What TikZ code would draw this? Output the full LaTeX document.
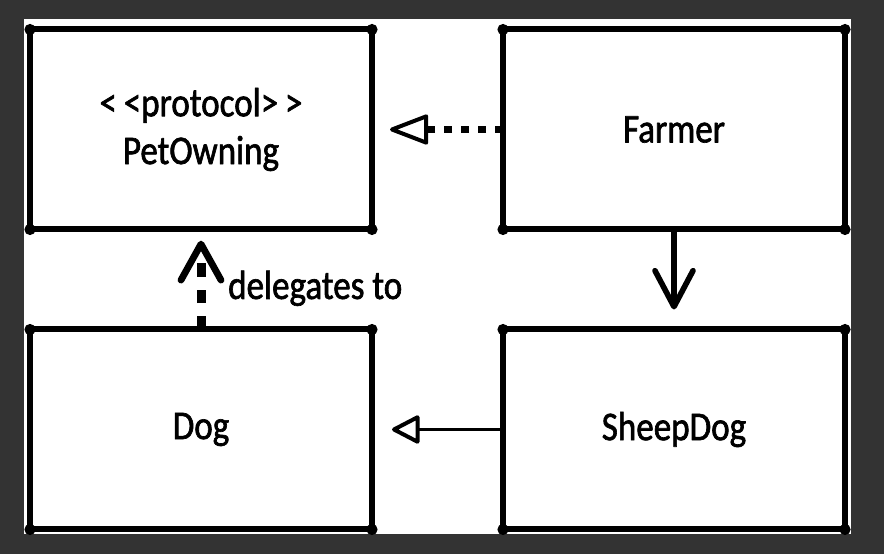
\documentclass[tikz,border=0pt]{standalone}
\usepackage{fontspec}
\setmainfont{Carlito}[FakeStretch=0.86, FakeBold=1.6]
\usepackage{tikz}
\usetikzlibrary{positioning, arrows.meta}
\definecolor{frame}{RGB}{51,51,51}

\begin{document}
\begin{tikzpicture}[font=\fontsize{29}{34}\selectfont,
    classbox/.style={draw, line width=0.15cm, minimum width=8.55cm, minimum height=5cm,
        inner sep=0pt, outer sep=0pt, align=center, line join=round}]
    % Frame and canvas
    \useasboundingbox (0,0) rectangle (22.1,13.85);
    \fill[frame] (0,0) rectangle (22.1,13.85);
    \fill[white] (0.6,0.5) rectangle (21.275,13.375);

    % The classes
    \node[classbox] (pet) at (5.025,10.6125) {<\,<protocol>\,>\\PetOwning};
    \node[classbox, right=3.275cm of pet] (farmer) {Farmer};
    \node[classbox, below=2.5cm of pet] (dog) {Dog};
    \node[classbox, right=3.275cm of dog] (sheep) {SheepDog};

    % Blobs on the corners
    \foreach \n in {pet, farmer, dog, sheep}
        \foreach \c in {north west, north east, south west, south east}
            \fill (\n.\c) circle (0.14cm);

    % Farmer conforms to PetOwning
    \draw[line width=0.175cm, dash pattern=on 0.2cm off 0.225cm, shorten >=0.45cm,
        -{Triangle[open, round, length=1.05cm, width=0.775cm, line width=0.1cm]}] (farmer) -- (pet);

    % Farmer has a SheepDog
    \draw[line width=0.14cm, shorten >=0.5cm,
        -{Straight Barb[round, length=0.9cm, width=0.95cm]}] (farmer) -- (sheep);

    % SheepDog inherits from Dog
    \draw[line width=0.075cm, shorten >=0.5cm,
        -{Triangle[open, round, length=0.75cm, width=0.75cm, line width=0.1cm]}] (sheep) -- (dog);

    % Dog delegates to PetOwning
    \draw[line width=0.225cm, dash pattern=on 0.33cm off 0.33cm, shorten >=0.28cm,
        -{Straight Barb[round, length=0.9cm, width=1cm, line width=0.17cm]}] (dog) -- (pet)
        node[midway, right=0.45cm, yshift=-0.22cm] (delegate) {delegates to};
\end{tikzpicture}
\end{document}
